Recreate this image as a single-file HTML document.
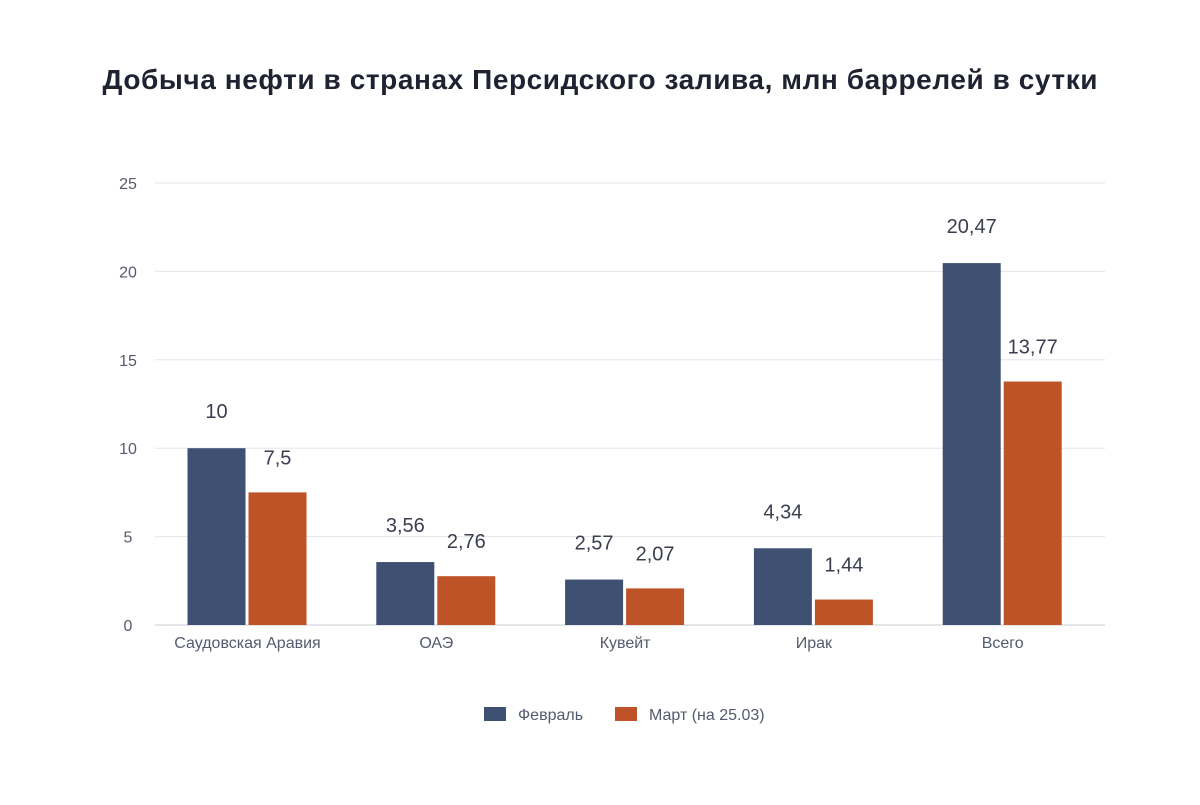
<!DOCTYPE html>
<html><head><meta charset="utf-8"><style>
body{margin:0;background:#fff;width:1200px;height:800px;overflow:hidden;font-family:"Liberation Sans",sans-serif}
</style></head><body>
<svg width="1200" height="800">
<text x="600" y="89" text-anchor="middle" font-size="28" font-weight="bold" fill="#1f2230" textLength="995" lengthAdjust="spacing">Добыча нефти в странах Персидского залива, млн баррелей в сутки</text>
<g id="grid"></g><g id="bars"></g>
<g>
<rect x="484" y="707" width="22" height="14" fill="#3f5173"/>
<text x="518" y="720" font-size="16" fill="#555a6e">Февраль</text>
<rect x="615" y="707" width="22" height="14" fill="#bd5327"/>
<text x="649" y="720" font-size="16" fill="#555a6e">Март (на 25.03)</text>
</g>
</svg>
<script>
const categories=["Саудовская Аравия","ОАЭ","Кувейт","Ирак","Всего"];
const febValues=[10,3.56,2.57,4.34,20.47];
const marValues=[7.5,2.76,2.07,1.44,13.77];
const febLabels=["10","3,56","2,57","4,34","20,47"];
const marLabels=["7,5","2,76","2,07","1,44","13,77"];
const yTicks=[0,5,10,15,20,25];
const NS="http://www.w3.org/2000/svg";
const x0=155,x1=1105,y0=625,y1=183,yMax=25;
const y=v=>y0-(v/yMax)*(y0-y1);
const band=188.8;
const cx=i=>247.5+band*i;
function mk(tag,attrs,parent){const e=document.createElementNS(NS,tag);for(const k in attrs)e.setAttribute(k,attrs[k]);parent.appendChild(e);return e;}
const grid=document.getElementById('grid'),bars=document.getElementById('bars');
yTicks.forEach(t=>{
 const l=mk('line',{x1:x0,x2:x1,y1:y(t),y2:y(t),stroke:t===0?'#c9ccd4':'#e3e5ea','stroke-width':1},grid);
 
 
 const tx=mk('text',{x:128,y:y(t)+6,'text-anchor':'middle','font-size':16,fill:'#555a6e'},grid);
 tx.textContent=t;
 
 
});
categories.forEach((c,i)=>{
 const c0=cx(i);
 const bf=mk('rect',{x:c0-60,y:y(febValues[i]),width:58,height:y0-y(febValues[i]),fill:'#3f5173'},bars);
 
 
 const bm=mk('rect',{x:c0+1,y:y(marValues[i]),width:58,height:y0-y(marValues[i]),fill:'#bd5327'},bars);
 
 
 const lf=mk('text',{x:c0-31,y:y(febValues[i])-30,'text-anchor':'middle','font-size':20,fill:'#3a3e4e'},bars);
 lf.textContent=febLabels[i];
 
 
 const lm=mk('text',{x:c0+30,y:y(marValues[i])-28,'text-anchor':'middle','font-size':20,fill:'#3a3e4e'},bars);
 lm.textContent=marLabels[i];
 
 
 const cl=mk('text',{x:c0,y:648,'text-anchor':'middle','font-size':16,fill:'#555a6e'},bars);
 cl.textContent=c;
 
 
});
</script>
</body></html>
